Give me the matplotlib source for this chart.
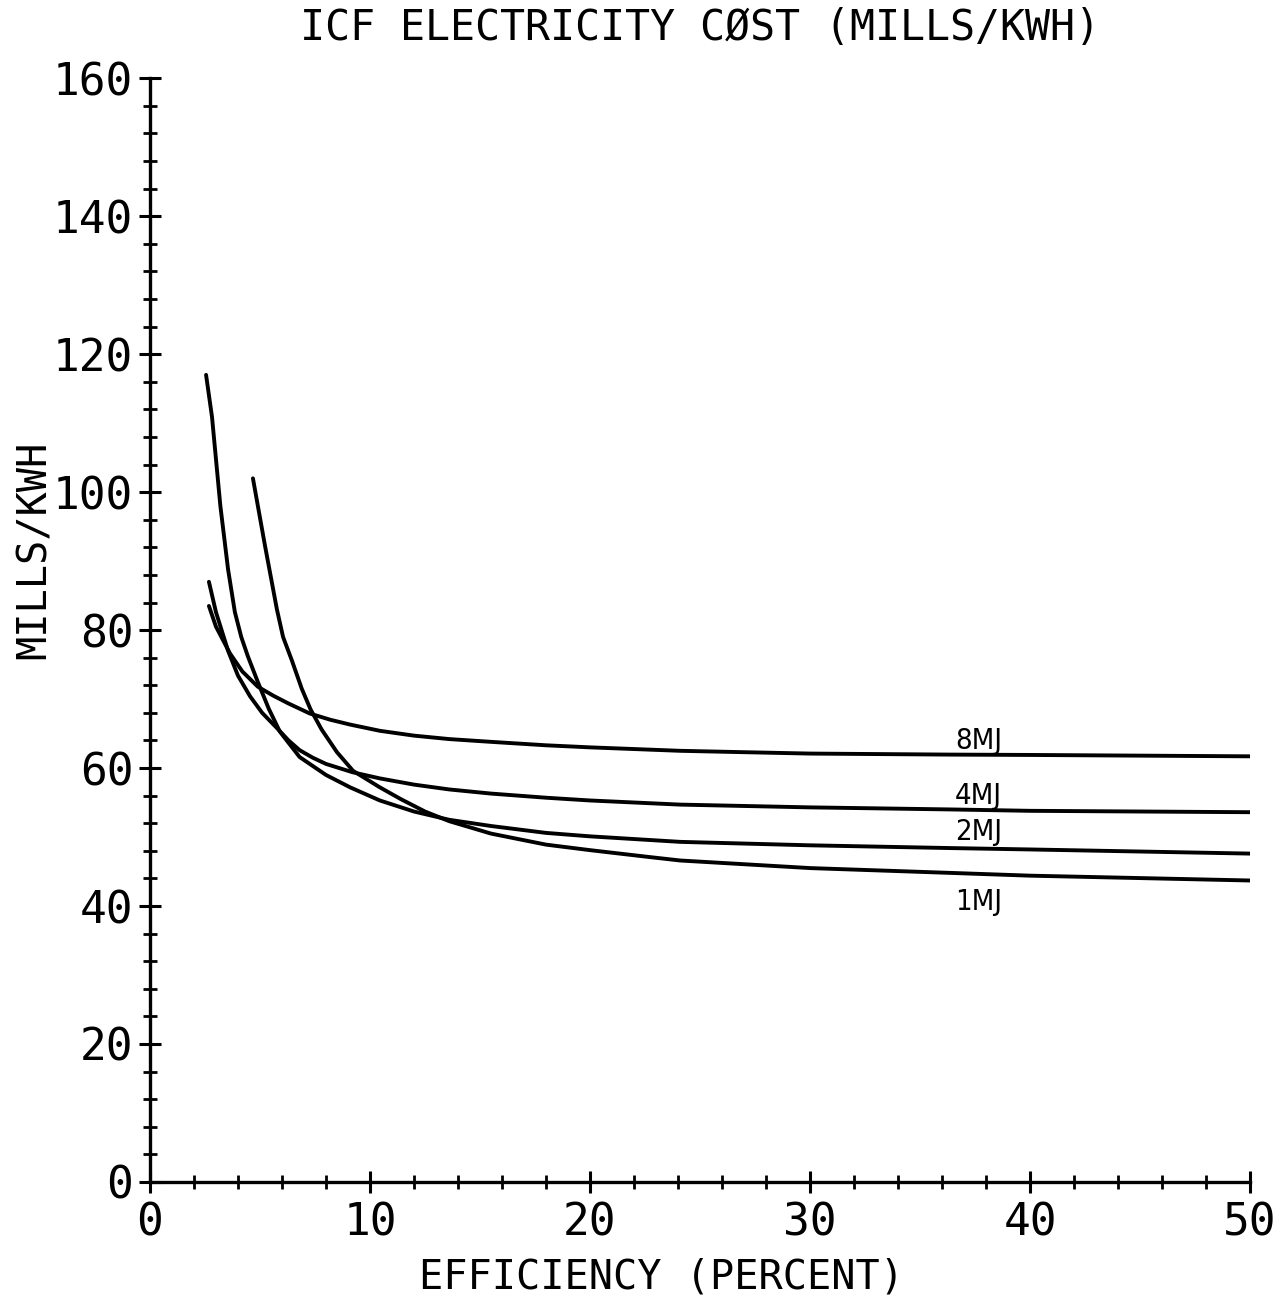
import matplotlib
matplotlib.use("Agg")
import matplotlib.pyplot as plt
from matplotlib.ticker import MultipleLocator

# Cost of electricity vs. driver efficiency for four driver energies
eff_8mj = [2.68, 3.0, 3.64, 4.2, 4.9, 5.6, 6.27, 7.27, 8.2, 9.1, 10.45, 12, 13.6, 15.5, 18, 20,
           24.1, 27, 30, 36.4, 40, 50]
cost_8mj = [83.5, 80.5, 76.6, 74.0, 71.8, 70.5, 69.4, 67.9, 67.0, 66.3, 65.4, 64.7, 64.2, 63.8,
            63.3, 63.0, 62.5, 62.3, 62.1, 61.95, 61.9, 61.7]

eff_4mj = [2.68, 3.0, 3.55, 4.0, 4.55, 5.1, 5.77, 6.3, 6.8, 7.4, 8.0, 9.2, 10.45, 12, 13.6, 15.5,
           18, 20, 24.1, 30, 36.4, 40, 50]
cost_4mj = [87.0, 82.6, 77.0, 73.4, 70.4, 68.0, 65.8, 64.0, 62.6, 61.5, 60.6, 59.4, 58.5, 57.6,
            56.9, 56.3, 55.7, 55.3, 54.7, 54.3, 54.0, 53.8, 53.6]

eff_2mj = [2.55, 2.82, 3.2, 3.55, 3.86, 4.15, 4.45, 4.9, 5.4, 5.9, 6.8, 8.0, 9.1, 10.45, 12,
           13.6, 15.5, 18, 20, 24.1, 30, 36.4, 40, 50]
cost_2mj = [117.0, 110.9, 98.0, 88.8, 82.6, 79.0, 76.2, 72.5, 68.6, 65.3, 61.6, 59.0, 57.2, 55.3,
            53.7, 52.5, 51.6, 50.6, 50.1, 49.3, 48.8, 48.4, 48.2, 47.6]

eff_1mj = [4.68, 5.23, 5.77, 6.05, 6.45, 6.9, 7.3, 7.8, 8.5, 9.23, 10.45, 11.4, 12.5, 13.6, 15.5,
           18, 20, 22.7, 24.1, 30, 36.4, 40, 50]
cost_1mj = [102.0, 92.2, 83.0, 79.0, 75.6, 71.5, 68.5, 65.6, 62.3, 59.6, 57.2, 55.5, 53.7, 52.3,
            50.5, 48.9, 48.1, 47.1, 46.6, 45.5, 44.8, 44.4, 43.7]

curve_labels = ["8MJ", "4MJ", "2MJ", "1MJ"]
label_x = [36.6, 36.6, 36.6, 36.6]
label_y = [63.9, 55.9, 50.7, 40.6]

mono = ["DejaVu Sans Mono"]

fig = plt.figure(figsize=(12.85, 13.04), dpi=100)
ax = fig.add_axes([0.1167, 0.0936, 0.8561, 0.8464])

for xs, ys in [(eff_8mj, cost_8mj), (eff_4mj, cost_4mj),
               (eff_2mj, cost_2mj), (eff_1mj, cost_1mj)]:
    ax.plot(xs, ys, color="black", lw=2.8, solid_capstyle="round",
            solid_joinstyle="round")

for txt, lx, ly in zip(curve_labels, label_x, label_y):
    ax.text(lx, ly, txt, family="DejaVu Sans", fontstretch="condensed",
            fontsize=21, ha="left", va="center")

ax.set_xlim(0, 50)
ax.set_ylim(0, 160)
ax.xaxis.set_major_locator(MultipleLocator(10))
ax.xaxis.set_minor_locator(MultipleLocator(2))
ax.yaxis.set_major_locator(MultipleLocator(20))
ax.yaxis.set_minor_locator(MultipleLocator(4))

for side in ("top", "right"):
    ax.spines[side].set_visible(False)
for side in ("left", "bottom"):
    ax.spines[side].set_linewidth(2.4)
    ax.spines[side].set_clip_on(False)

ax.tick_params(which="major", direction="inout", length=16, width=2.2,
               labelsize=32, pad=4)
ax.tick_params(which="minor", direction="inout", length=10, width=2.0)
ax.tick_params(axis="x", which="major", pad=6)
for lab in ax.get_xticklabels() + ax.get_yticklabels():
    lab.set_family(mono)

fig.text(662 / 1285, 1 - 1278 / 1304, "EFFICIENCY (PERCENT)", family=mono,
         fontsize=29, ha="center", va="center")
fig.text(35 / 1285, 1 - 550 / 1304, "MILLS/KWH", family=mono,
         fontsize=29, ha="center", va="center", rotation=90)
fig.text(700 / 1285, 1 - 28 / 1304, "ICF ELECTRICITY CØST (MILLS/KWH)", family=mono,
         fontsize=30, ha="center", va="center")

fig.savefig("out.png", dpi=100, facecolor="white")
